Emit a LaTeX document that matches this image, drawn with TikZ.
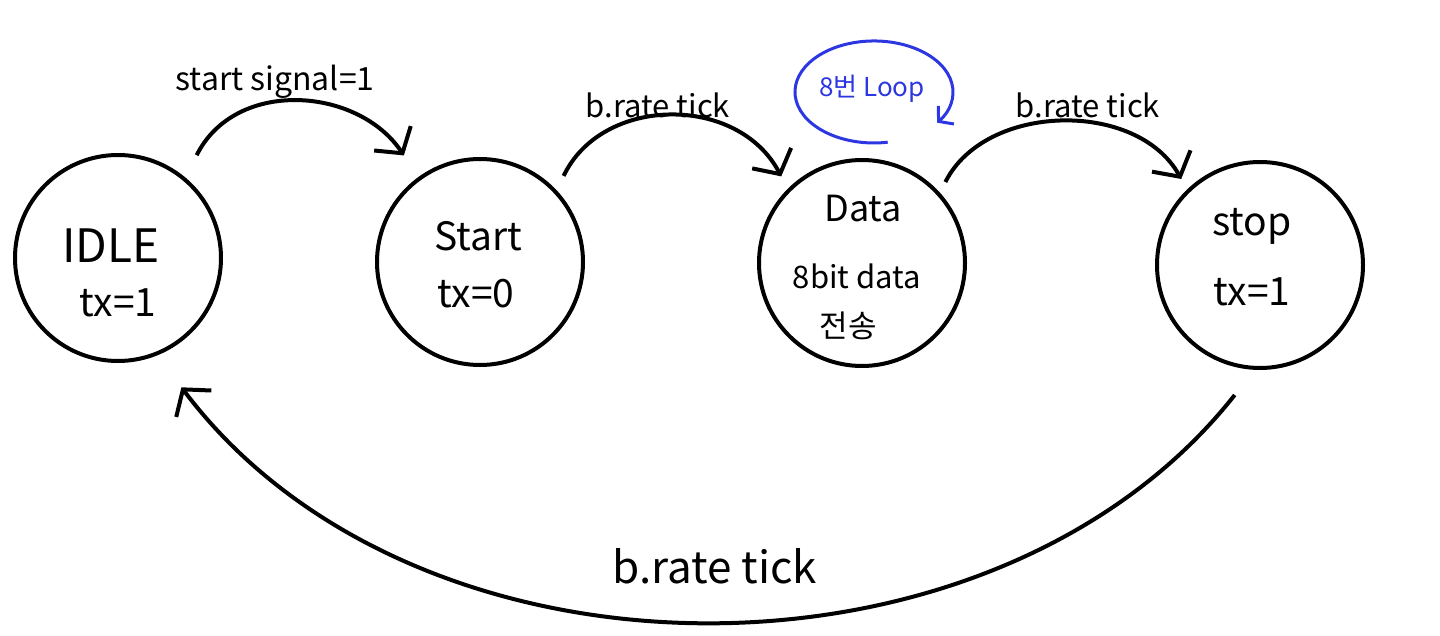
\documentclass[tikz,border=0pt]{standalone}
\usepackage{fontspec}
\setmainfont{Noto Sans CJK KR}
\usetikzlibrary{arrows.meta}
\definecolor{loopblue}{RGB}{45,55,225}
\tikzset{
  state/.style={draw, circle, line width=4pt, minimum size=206pt, inner sep=0pt},
  conn/.style={line width=4pt, -{Straight Barb[length=18pt,width=44pt,line width=4pt]}},
  bigtxt/.style={font=\fontsize{46}{50}\selectfont},
  midtxt/.style={font=\fontsize{39}{42}\selectfont},
  smalltxt/.style={font=\fontsize{31}{34}\selectfont},
  lbl/.style={font=\fontsize{31}{34}\selectfont},
}
\begin{document}
\begin{tikzpicture}[x=1pt,y=-1pt]
\useasboundingbox (0,0) rectangle (1440,636);
\fill[white] (0,0) rectangle (1440,636);
% states
\node[state] (idle) at (118,258) {};
\node[state] (start) at (480,262) {};
\node[state] (data) at (862,263) {};
\node[state] (stop) at (1260,265) {};
% state texts
\node[bigtxt] (t1) at (111,246) {IDLE};
\node[midtxt] (t2) at (118,303) {tx=1};
\node[midtxt] (t3) at (478,236) {Start};
\node[midtxt] (t4) at (476,294) {tx=0};
\node[midtxt, font=\fontsize{36}{40}\selectfont] (t5) at (863,209) {Data};
\node[smalltxt] (t6) at (857,276) {8bit data};
\node[smalltxt] (t7) at (848,326) {전송};
\node[midtxt] (t8) at (1252,226) {stop};
\node[midtxt] (t9) at (1252,292) {tx=1};
% connectors
\draw[conn, shorten <=25pt, shorten >=26pt] (idle.50) .. controls +(50,-100) and +(-60,-90) .. (start.126);
\draw[conn, shorten <=16pt, shorten >=14pt] (start.43) .. controls +(45,-95) and +(-50,-95) .. (data.135);
\draw[conn, shorten <=12pt, shorten >=12pt] (data.42) .. controls +(45,-90) and +(-50,-90) .. (stop.134);
\draw[conn, shorten <=32pt, shorten >=40pt] (stop.267) .. controls +(-260,330) and +(260,345) .. (idle.292);
% labels
\node[font=\fontsize{32}{36}\selectfont] (l1) at (275,82) {start signal=1};
\node[lbl] (l2) at (658,105) {b.rate tick};
\node[lbl] (l3) at (1088,105) {b.rate tick};
\node[font=\fontsize{44}{48}\selectfont] (l4) at (715,566) {b.rate tick};
% loop
\coordinate (loopc) at (874,92);
\draw[loopblue, line width=3pt, -{Straight Barb[length=10pt,width=24pt,line width=3pt]}]
  (887.7,142.2) arc[start angle=-80, end angle=-397, x radius=79pt, y radius=51pt];
\node[text=loopblue, font=\fontsize{26}{30}\selectfont] (lt) at (872,89) {8번 Loop};
\end{tikzpicture}
\end{document}
